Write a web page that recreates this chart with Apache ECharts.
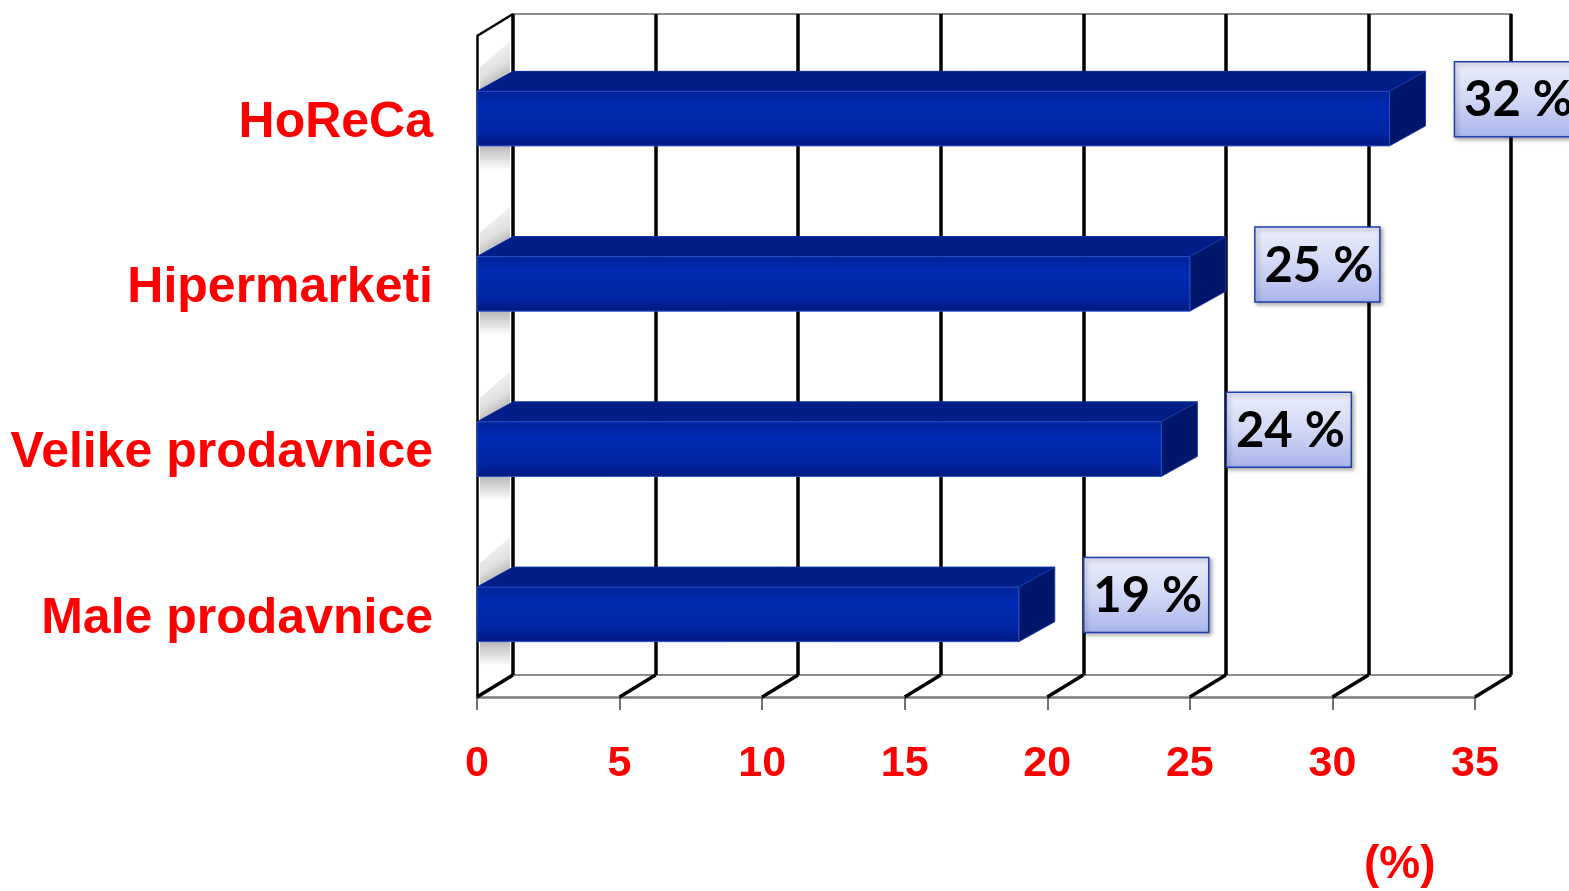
<!DOCTYPE html>
<html>
<head>
<meta charset="utf-8">
<script src="https://cdn.jsdelivr.net/npm/echarts@6/dist/echarts.min.js"></script>
<style>html,body{margin:0;padding:0;background:#fff;}#c{width:1569px;height:891px;}</style>
</head>
<body>
<div id="c"></div>
<script>
const categories = ['HoReCa', 'Hipermarketi', 'Velike prodavnice', 'Male prodavnice'];
const values = [32, 25, 24, 19];
const ticks = [0, 5, 10, 15, 20, 25, 30, 35];
const unitLabel = '(%)';

const DX = 36, DY = -22;
const chart = echarts.init(document.getElementById('c'));

const barData = values.map((v, i) => [v, i]);

function renderBar(params, api) {
  const v = api.value(0), ci = api.value(1);
  const s = api.coord([0, ci]);
  const e = api.coord([v, ci]);
  const band = api.size([0, 1])[1];
  const h = band * 0.33;
  const x0 = s[0], x1 = e[0], yT = e[1] - h / 2, yB = e[1] + h / 2;
  const dx = DX, dy = -20;
  const front = new echarts.graphic.LinearGradient(0, 0, 0, 1, [
    {offset: 0, color: '#00239a'}, {offset: 0.3, color: '#002ab2'},
    {offset: 0.75, color: '#0025a4'}, {offset: 1, color: '#00197e'}]);
  return {
    type: 'group',
    children: [
      {type: 'polygon', shape: {points: [[x0 + 3, yT - 1], [x0 + dx - 3, yT + dy + 1], [x0 + dx - 3, yT + dy - 30], [x0 + 3, yT - 24]]},
        style: {fill: new echarts.graphic.LinearGradient(0, 0, 1, 1, [
          {offset: 0, color: 'rgba(0,0,0,0)'}, {offset: 0.55, color: 'rgba(0,0,0,0.12)'},
          {offset: 1, color: 'rgba(0,0,0,0.45)'}])}},
      {type: 'rect', shape: {x: x0 + 3, y: yB, width: dx - 6, height: 24},
        style: {fill: new echarts.graphic.LinearGradient(0, 0, 0, 1, [
          {offset: 0, color: 'rgba(0,0,0,0.28)'}, {offset: 1, color: 'rgba(0,0,0,0)'}])}},
      {type: 'polygon', shape: {points: [[x0, yT], [x0 + dx, yT + dy], [x1 + dx, yT + dy], [x1, yT]]},
        style: {fill: '#001d88', stroke: '#0a2a9a', lineWidth: 1}},
      {type: 'polygon', shape: {points: [[x1, yT], [x1 + dx, yT + dy], [x1 + dx, yB + dy], [x1, yB]]},
        style: {fill: '#00166a', stroke: '#1a3aa8', lineWidth: 1}},
      {type: 'rect', shape: {x: x0, y: yT, width: x1 - x0, height: h},
        style: {fill: front, stroke: '#2a50c8', lineWidth: 1}}
    ]
  };
}

function renderLabel(params, api) {
  const v = api.value(0), ci = api.value(1);
  const e = api.coord([v, ci]);
  const bx = e[0] + 65, by = e[1] - 20 - 37;
  return {
    type: 'group',
    children: [
      {type: 'rect', shape: {x: bx, y: by, width: 125, height: 75},
        style: {fill: new echarts.graphic.LinearGradient(0, 0, 0, 1, [
          {offset: 0, color: '#eceefb'}, {offset: 0.5, color: '#d2d8f5'}, {offset: 1, color: '#a9b5ec'}]),
          stroke: '#2040b0', lineWidth: 1.5, shadowBlur: 4, shadowOffsetX: 2, shadowOffsetY: 2,
          shadowColor: 'rgba(0,0,0,0.35)'}},
      {type: 'text', x: bx + 64, y: by + 39,
        style: {text: v + ' %', fill: '#000', font: 'bold 49px Lato, "Open Sans", sans-serif',
          align: 'center', verticalAlign: 'middle'}}
    ]
  };
}

function renderFloor(params, api) {
  const v = api.value(0);
  const cs = params.coordSys;
  const x = api.coord([v, 0])[0];
  const y = cs.y + cs.height;
  return {type: 'line', shape: {x1: x, y1: y, x2: x + DX, y2: y + DY},
    style: {stroke: '#000', lineWidth: 3.5}};
}

function renderWallTop(params, api) {
  const cs = params.coordSys;
  const x = api.coord([api.value(0), 0])[0];
  return {type: 'line', shape: {x1: x, y1: cs.y, x2: x + DX, y2: cs.y + DY},
    style: {stroke: '#000', lineWidth: 2.5}};
}

chart.setOption({
  animation: false,
  backgroundColor: '#fff',
  grid: [
    {left: 477, top: 36, right: 94, bottom: 194},
    {left: 513, top: 14, right: 58, bottom: 216, show: true, borderColor: '#8c8c8c', borderWidth: 2, backgroundColor: 'transparent'}
  ],
  xAxis: [
    {gridIndex: 0, type: 'value', min: 0, max: 35, interval: 5,
      axisLine: {show: true, lineStyle: {color: '#7a7a7a', width: 2.5}},
      axisTick: {show: true, length: 13, lineStyle: {color: '#444', width: 1.5}},
      splitLine: {show: false},
      axisLabel: {color: '#ff0000', fontSize: 43, fontWeight: 'bold', fontFamily: '"Liberation Sans", Arial, sans-serif', margin: 46}},
    {gridIndex: 1, type: 'value', min: 0, max: 35, interval: 5,
      axisLine: {show: false}, axisTick: {show: false}, axisLabel: {show: false},
      splitLine: {show: true, lineStyle: {color: '#000', width: 3.5}}}
  ],
  yAxis: [
    {gridIndex: 0, type: 'category', data: categories, inverse: true,
      axisLine: {show: true, lineStyle: {color: '#000', width: 2.5}},
      axisTick: {show: false}, splitLine: {show: false},
      axisLabel: {margin: 44, formatter: '{a|{value}}',
        rich: {a: {color: '#ff0000', fontSize: 50, fontWeight: 'bold', fontFamily: '"Liberation Sans", Arial, sans-serif', padding: [9, 0, 0, 0]}}}},
    {gridIndex: 1, type: 'category', data: categories, inverse: true,
      axisLine: {show: false}, axisTick: {show: false}, axisLabel: {show: false}, splitLine: {show: false}}
  ],
  series: [
    {type: 'custom', name: 'floor', xAxisIndex: 0, yAxisIndex: 0, z: 1, silent: true,
      data: ticks.map(t => [t]), renderItem: renderFloor, clip: false},
    {type: 'custom', name: 'walltop', xAxisIndex: 0, yAxisIndex: 0, z: 1, silent: true,
      data: [[0]], renderItem: renderWallTop, clip: false},
    {type: 'custom', name: 'bars', xAxisIndex: 0, yAxisIndex: 0, z: 3,
      data: barData, renderItem: renderBar, clip: false},
    {type: 'custom', name: 'labels', xAxisIndex: 0, yAxisIndex: 0, z: 4,
      data: barData, renderItem: renderLabel, clip: false}
  ],
  graphic: [
    {type: 'text', left: 1364, top: 842,
      style: {text: unitLabel, fill: '#ff0000', font: 'bold 46px "Liberation Sans", Arial, sans-serif'}}
  ]
});
</script>
</body>
</html>
